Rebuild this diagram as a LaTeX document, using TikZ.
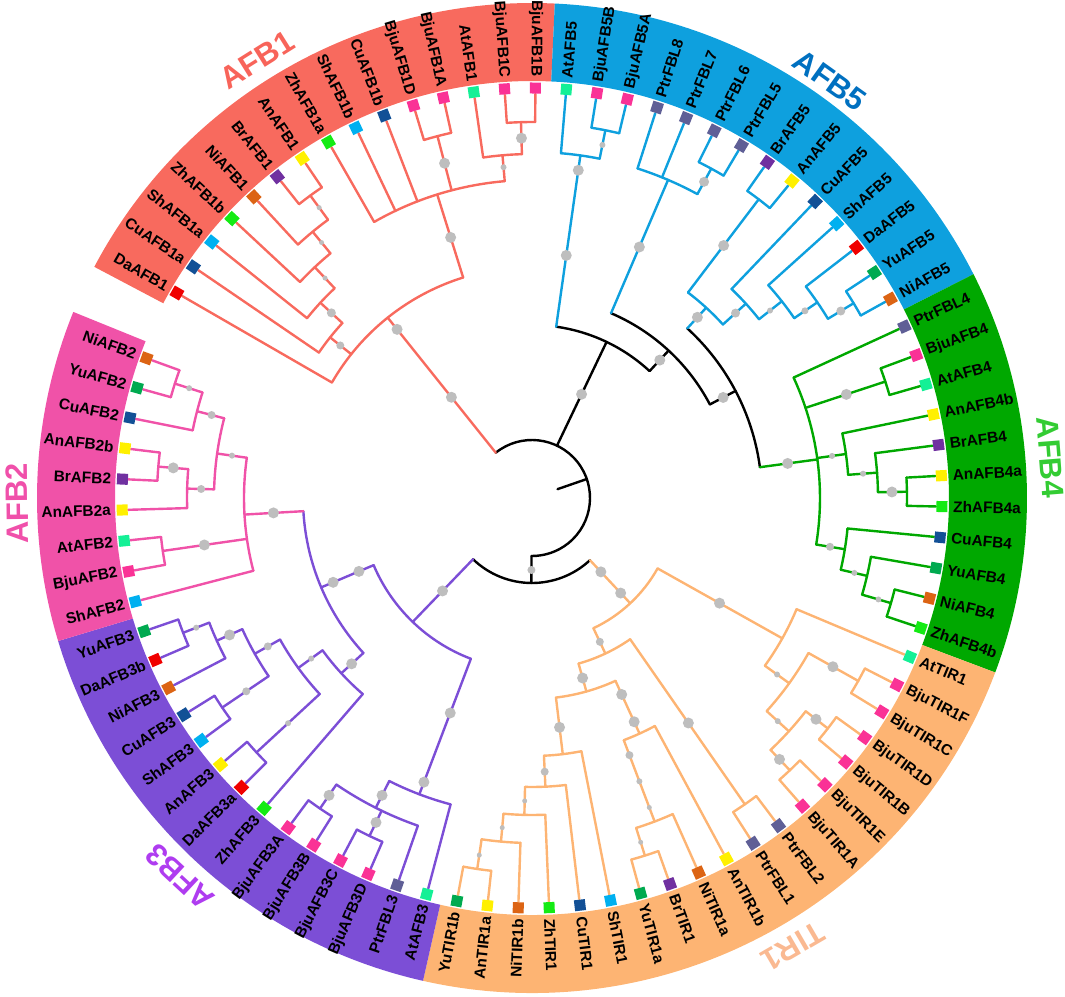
\documentclass[tikz,border=0pt]{standalone}
\usepackage{fontspec}
\setmainfont{Liberation Sans}
\usepackage{tikz}
\usetikzlibrary{calc}
\usepackage{xcolor}

\definecolor{cAFB1}{RGB}{248,106,94}
\definecolor{cAFB5}{RGB}{14,160,222}
\definecolor{cAFB4}{RGB}{0,168,0}
\definecolor{cTIR1}{RGB}{253,180,115}
\definecolor{cAFB3}{RGB}{124,78,214}
\definecolor{cAFB2}{RGB}{240,82,168}
\definecolor{lAFB1}{RGB}{248,100,90}
\definecolor{lAFB5}{RGB}{0,112,192}
\definecolor{lAFB4}{RGB}{51,204,51}
\definecolor{lTIR1}{RGB}{250,185,145}
\definecolor{lAFB3}{RGB}{175,60,240}
\definecolor{lAFB2}{RGB}{240,80,170}
\definecolor{dotgray}{RGB}{190,190,190}
\definecolor{spDa}{RGB}{240,0,0}
\definecolor{spCu}{RGB}{18,80,150}
\definecolor{spSh}{RGB}{0,176,240}
\definecolor{spZh}{RGB}{20,235,20}
\definecolor{spNi}{RGB}{220,100,20}
\definecolor{spBr}{RGB}{112,48,160}
\definecolor{spAn}{RGB}{255,240,0}
\definecolor{spBju}{RGB}{250,50,150}
\definecolor{spAt}{RGB}{20,240,150}
\definecolor{spPtr}{RGB}{95,95,150}
\definecolor{spYu}{RGB}{0,170,80}

\tikzset{
    branch/.style={line width=1.2pt, line cap=round, line join=round},
    bsdot/.style={fill=dotgray},
    leafbox/.style={draw=none, minimum size=5.5pt, inner sep=0pt},
    leaftext/.style={font=\bfseries\fontsize{7.7}{8}\selectfont, inner sep=0pt, text=black},
    grouptext/.style={font=\bfseries\fontsize{15.5}{16}\selectfont, inner sep=0pt}
}

% leaf index -> angle
\newcommand\kang[1]{150-4.32*(#1)}

% name, colour, k, radius, parent radius, first child k, last child k, dots r/size
\newcommand\clade[8]{%
    \pgfmathsetmacro\ca{\kang{#3}}%
    \pgfmathsetmacro\cb{\kang{#6}}%
    \pgfmathsetmacro\cc{\kang{#7}}%
    \coordinate (#1) at (\ca:#4);
    \coordinate (#1-foot) at (\ca:#5);
    \draw[branch, #2] (#1-foot) -- (#1);
    \draw[branch, #2] (\cb:#4) arc[start angle=\cb, end angle=\cc, radius=#4];
    \foreach \dr/\ds in {#8} {\fill[bsdot] (\ca:\dr) circle[radius=\ds];}
}

% k, name, species colour, parent radius, clade colour
\newcommand\leaf[5]{%
    \pgfmathsetmacro\la{\kang{#1}}%
    \draw[branch, #5] (\la:#4) -- (\la:404);
    \node[leafbox, fill=#3, rotate=\la] (sq-#2) at (\la:410) {};
    \pgfmathtruncatemacro\lflip{(\la>89 || \la<-90) ? 1 : 0}%
    \ifnum\lflip=1
        \node[leaftext, anchor=east, rotate=\la+180] (lb-#2) at (\la:421) {#2};
    \else
        \node[leaftext, anchor=west, rotate=\la] (lb-#2) at (\la:421) {#2};
    \fi
}

\begin{document}
\begin{tikzpicture}[x=0.5pt, y=0.5pt]
    \useasboundingbox (-532,-498) rectangle (533,498);

    % coloured bands
    \foreach \ka/\kb/\col in {-0.5/14.5/cAFB1, 14.5/28.5/cAFB5, 28.5/39.5/cAFB4,
                              39.5/58.5/cTIR1, 58.5/72.5/cAFB3, 72.5/81.5/cAFB2} {
        \pgfmathsetmacro\ra{\kang{\ka}}
        \pgfmathsetmacro\rb{\kang{\kb}}
        \fill[\col] (\ra:417) arc[start angle=\ra, end angle=\rb, radius=417]
            -- (\rb:495) arc[start angle=\rb, end angle=\ra, radius=495] -- cycle;
    }

    % backbone
    \coordinate (root-in) at ({\kang{30.3}}:27);
    \coordinate (root) at ({\kang{30.3}}:58);
    \draw[branch] (root-in) -- (root);
    \draw[branch] ({\kang{4.94}}:58) arc[start angle={\kang{4.94}}, end angle={\kang{55.66}}, radius=58];
    \clade{r2}{black}{55.66}{85}{58}{45.6}{65.72}{72/4}
    \clade{a45}{black}{19.8}{173}{58}{15.75}{23.8}{115/5.5}
    \clade{q}{black}{23.8}{201}{173}{19.25}{28.3}{188/5.5}
    \clade{s}{black}{28.3}{230}{201}{23.72}{32.94}{216/5.5}

    % AFB1
    \clade{a1-root}{cAFB1}{4.94}{231}{58}{0}{9.875}{129/5.5,216/5.5}
    \clade{a1-n1}{cAFB1}{1.97}{258}{231}{1}{2.94}{245/4}
    \clade{a1-n2}{cAFB1}{2.94}{288}{258}{2}{3.875}{273/4.5}
    \clade{a1-n3}{cAFB1}{3.875}{317}{288}{3}{4.75}{302/2.5}
    \clade{a1-n4}{cAFB1}{4.75}{345}{317}{4}{5.5}{331/2.5}
    \clade{a1-n5}{cAFB1}{5.5}{375}{345}{5}{6}{360/2.5}
    \clade{a1-big}{cAFB1}{9.875}{318}{231}{7}{12.75}{273/5.5}
    \clade{a1-da}{cAFB1}{10.5}{374}{318}{10}{11}{346/5.5}
    \clade{a1-atc}{cAFB1}{12.75}{344}{318}{12}{13.5}{332/3}
    \clade{a1-cb}{cAFB1}{13.5}{376}{344}{13}{14}{360/5.5}

    % AFB5
    \clade{a5-ab}{cAFB5}{15.75}{346}{173}{15}{16.5}{245/5.5,331/5.5}
    \clade{a5-b}{cAFB5}{16.5}{375}{346}{16}{17}{360/3}
    \clade{a5-p}{cAFB5}{19.25}{346}{201}{18}{20.5}{273/5.5}
    \clade{a5-p2}{cAFB5}{20.5}{375}{346}{20}{21}{360/5}
    \clade{a5-t}{cAFB5}{23.72}{258}{230}{22.5}{24.94}{245/5.5}
    \clade{a5-t1}{cAFB5}{22.5}{375}{258}{22}{23}{317/5.5}
    \clade{a5-t2}{cAFB5}{24.94}{289}{258}{24}{25.875}{275/4.5}
    \clade{a5-t3}{cAFB5}{25.875}{318}{289}{25}{26.75}{303/3}
    \clade{a5-t4}{cAFB5}{26.75}{346}{318}{26}{27.5}{331/3.5}
    \clade{a5-t5}{cAFB5}{27.5}{376}{346}{27}{28}{361/4.5}

    % AFB4
    \clade{a4-u}{cAFB4}{32.94}{288}{230}{29}{36.875}{258/5.5}
    \clade{a4-ba}{cAFB4}{30.5}{372}{288}{30}{31}{331/5.5}
    \clade{a4-v}{cAFB4}{32.875}{317}{288}{32}{33.75}{303/3}
    \clade{a4-w}{cAFB4}{33.75}{346}{317}{33}{34.5}{332/3}
    \clade{a4-x}{cAFB4}{34.5}{375}{346}{34}{35}{360/5.5}
    \clade{a4-y}{cAFB4}{36.875}{317}{288}{36}{37.75}{302/4}
    \clade{a4-z}{cAFB4}{37.75}{344}{317}{37}{38.5}{331/3}
    \clade{a4-z2}{cAFB4}{38.5}{374}{344}{38}{39}{361/3}

    % TIR1
    \clade{t-a}{cTIR1}{45.6}{144}{85}{41.5}{49.71}{101/5.5,130/5.5}
    \clade{t-b}{cTIR1}{41.5}{287}{144}{40}{43}{215/5.5}
    \clade{t-d}{cTIR1}{43}{317}{287}{41.5}{44.5}{302/3}
    \clade{t-e}{cTIR1}{41.5}{374}{317}{41}{42}{345/5.5}
    \clade{t-f}{cTIR1}{44.5}{347}{317}{43.5}{45.5}{332/3}
    \clade{t-g}{cTIR1}{43.5}{375}{347}{43}{44}{360/5.5}
    \clade{t-h}{cTIR1}{45.5}{375}{347}{45}{46}{360/5.5}
    \clade{t-c}{cTIR1}{49.71}{172}{144}{47.5}{51.92}{159/4}
    \clade{t-j}{cTIR1}{47.5}{373}{172}{47}{48}{274/5.5}
    \clade{t-i}{cTIR1}{51.92}{201}{172}{49.875}{53.97}{187/5.5}
    \clade{t-l}{cTIR1}{49.875}{259}{201}{49}{50.75}{216/5.5,246/5.5}
    \clade{t-m}{cTIR1}{50.75}{346}{259}{50}{51.5}{275/4,303/3,331/2.5}
    \clade{t-n}{cTIR1}{51.5}{375}{346}{51}{52}{361/2.5}
    \clade{t-k}{cTIR1}{53.97}{258}{201}{53}{54.94}{231/5.5}
    \clade{t-o}{cTIR1}{54.94}{289}{258}{54}{55.875}{274/4}
    \clade{t-p}{cTIR1}{55.875}{317}{289}{55}{56.75}{303/2.5}
    \clade{t-q}{cTIR1}{56.75}{345}{317}{56}{57.5}{331/2.5}
    \clade{t-r}{cTIR1}{57.5}{375}{345}{57}{58}{361/2.5}

    % AFB3
    \clade{a3-a}{cAFB3}{65.72}{172}{85}{60.375}{71.07}{129/5.5}
    \clade{a3-c1}{cAFB3}{60.375}{317}{172}{59}{61.75}{230/5.5,304/5.5}
    \clade{a3-c2}{cAFB3}{61.75}{347}{317}{60}{63.5}{333/5.5}
    \clade{a3-cd}{cAFB3}{61.5}{375}{347}{61}{62}{360/5.5}
    \clade{a3-ba}{cAFB3}{63.5}{376}{347}{63}{64}{360/5.5}
    \clade{a3-b23}{cAFB3}{71.07}{229}{172}{66.53}{75.625}{188/5.5,216/5.5}
    \clade{a3-g7}{cAFB3}{66.53}{259}{229}{65}{68.05}{245/5.5}
    \clade{a3-g6}{cAFB3}{68.05}{289}{259}{66.5}{69.6}{273/3}
    \clade{a3-g5}{cAFB3}{66.5}{375}{289}{66}{67}{332/3}
    \clade{a3-g4}{cAFB3}{69.6}{318}{289}{68.5}{70.75}{303/4}
    \clade{a3-g3}{cAFB3}{68.5}{374}{318}{68}{69}{345/4}
    \clade{a3-g2}{cAFB3}{70.75}{346}{318}{70}{71.5}{332/5.5}
    \clade{a3-g1}{cAFB3}{71.5}{374}{346}{71}{72}{360/3}

    % AFB2
    \clade{a2-f7}{cAFB2}{75.625}{288}{229}{73}{78.25}{259/5.5}
    \clade{a2-f6}{cAFB2}{74.5}{373}{288}{74}{75}{331/5.5}
    \clade{a2-f5}{cAFB2}{78.25}{318}{288}{76.75}{79.75}{303/3}
    \clade{a2-f4}{cAFB2}{76.75}{345}{318}{76}{77.5}{331/4}
    \clade{a2-f3}{cAFB2}{77.5}{375}{345}{77}{78}{360/5.5}
    \clade{a2-f2}{cAFB2}{79.75}{346}{318}{79}{80.5}{331/4}
    \clade{a2-f1}{cAFB2}{80.5}{375}{346}{80}{81}{360/3}

    % leaves
    \foreach \k/\nm/\sp/\pr in {0/DaAFB1/spDa/231, 1/CuAFB1a/spCu/258, 2/ShAFB1a/spSh/288,
        3/ZhAFB1b/spZh/317, 4/NiAFB1/spNi/345, 5/BrAFB1/spBr/375, 6/AnAFB1/spAn/375,
        7/ZhAFB1a/spZh/318, 8/ShAFB1b/spSh/318, 9/CuAFB1b/spCu/318, 10/BjuAFB1D/spBju/374,
        11/BjuAFB1A/spBju/374, 12/AtAFB1/spAt/344, 13/BjuAFB1C/spBju/376, 14/BjuAFB1B/spBju/376}
        {\leaf{\k}{\nm}{\sp}{\pr}{cAFB1}}
    \foreach \k/\nm/\sp/\pr in {15/AtAFB5/spAt/346, 16/BjuAFB5B/spBju/375, 17/BjuAFB5A/spBju/375,
        18/PtrFBL8/spPtr/346, 19/PtrFBL7/spPtr/346, 20/PtrFBL6/spPtr/375, 21/PtrFBL5/spPtr/375,
        22/BrAFB5/spBr/375, 23/AnAFB5/spAn/375, 24/CuAFB5/spCu/289, 25/ShAFB5/spSh/318,
        26/DaAFB5/spDa/346, 27/YuAFB5/spYu/376, 28/NiAFB5/spNi/376}
        {\leaf{\k}{\nm}{\sp}{\pr}{cAFB5}}
    \foreach \k/\nm/\sp/\pr in {29/PtrFBL4/spPtr/288, 30/BjuAFB4/spBju/372, 31/AtAFB4/spAt/372,
        32/AnAFB4b/spAn/317, 33/BrAFB4/spBr/346, 34/AnAFB4a/spAn/375, 35/ZhAFB4a/spZh/375,
        36/CuAFB4/spCu/317, 37/YuAFB4/spYu/344, 38/NiAFB4/spNi/374, 39/ZhAFB4b/spZh/374}
        {\leaf{\k}{\nm}{\sp}{\pr}{cAFB4}}
    \foreach \k/\nm/\sp/\pr in {40/AtTIR1/spAt/287, 41/BjuTIR1F/spBju/374, 42/BjuTIR1C/spBju/374,
        43/BjuTIR1D/spBju/375, 44/BjuTIR1B/spBju/375, 45/BjuTIR1E/spBju/375, 46/BjuTIR1A/spBju/375,
        47/PtrFBL2/spPtr/373, 48/PtrFBL1/spPtr/373, 49/AnTIR1b/spAn/259, 50/NiTIR1a/spNi/346,
        51/BrTIR1/spBr/375, 52/YuTIR1a/spYu/375, 53/ShTIR1/spSh/258, 54/CuTIR1/spCu/289,
        55/ZhTIR1/spZh/317, 56/NiTIR1b/spNi/345, 57/AnTIR1a/spAn/375, 58/YuTIR1b/spYu/375}
        {\leaf{\k}{\nm}{\sp}{\pr}{cTIR1}}
    \foreach \k/\nm/\sp/\pr in {59/AtAFB3/spAt/317, 60/PtrFBL3/spPtr/347, 61/BjuAFB3D/spBju/375,
        62/BjuAFB3C/spBju/375, 63/BjuAFB3B/spBju/376, 64/BjuAFB3A/spBju/376, 65/ZhAFB3/spZh/259,
        66/DaAFB3a/spDa/375, 67/AnAFB3/spAn/375, 68/ShAFB3/spSh/374, 69/CuAFB3/spCu/374,
        70/NiAFB3/spNi/346, 71/DaAFB3b/spDa/374, 72/YuAFB3/spYu/374}
        {\leaf{\k}{\nm}{\sp}{\pr}{cAFB3}}
    \foreach \k/\nm/\sp/\pr in {73/ShAFB2/spSh/288, 74/BjuAFB2/spBju/373, 75/AtAFB2/spAt/373,
        76/AnAFB2a/spAn/345, 77/BrAFB2/spBr/375, 78/AnAFB2b/spAn/375, 79/CuAFB2/spCu/346,
        80/YuAFB2/spYu/375, 81/NiAFB2/spNi/375}
        {\leaf{\k}{\nm}{\sp}{\pr}{cAFB2}}

    % group names
    \node[grouptext, text=lAFB1, rotate=32.1] (g-AFB1) at (122.1:517) {AFB1};
    \node[grouptext, text=lAFB5, rotate=-35.5] (g-AFB5) at (54.5:513) {AFB5};
    \node[grouptext, text=lAFB4, rotate=-85.5] (g-AFB4) at (4.5:520) {AFB4};
    \node[grouptext, text=lTIR1, rotate=-149.8] (g-TIR1) at (-59.8:519) {TIR1};
    \node[grouptext, text=lAFB3, rotate=-222.9] (g-AFB3) at (-132.9:517) {AFB3};
    \node[grouptext, text=lAFB2, rotate=90.6] (g-AFB2) at (180.6:515) {AFB2};
\end{tikzpicture}
\end{document}
